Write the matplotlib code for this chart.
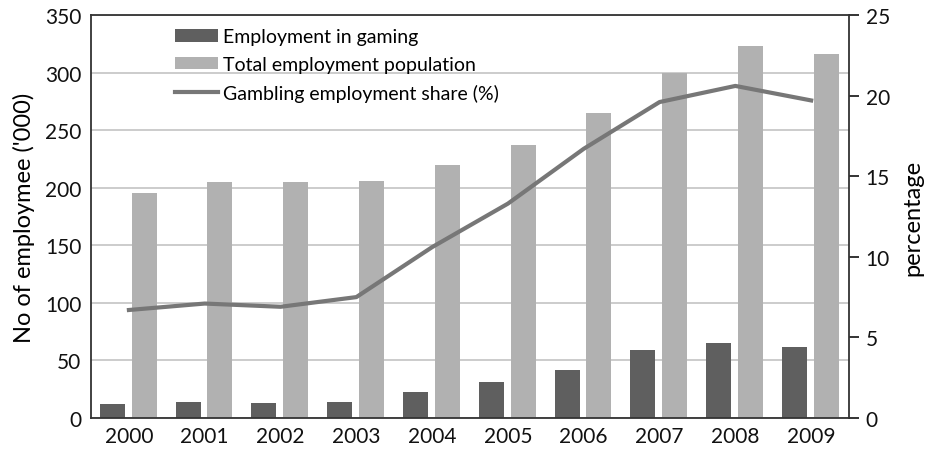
import numpy as np
import matplotlib
matplotlib.use('Agg')
import matplotlib.pyplot as plt

plt.rcParams['font.family'] = ['Lato', 'DejaVu Sans']

years = ['2000', '2001', '2002', '2003', '2004', '2005', '2006', '2007', '2008', '2009']
gaming = [12, 14, 13, 14, 23, 31, 42, 59, 65, 62]
total = [195, 205, 205, 206, 220, 237, 265, 300, 323, 316]
share = [6.7, 7.1, 6.9, 7.5, 10.6, 13.3, 16.7, 19.6, 20.6, 19.7]

fig = plt.figure(figsize=(9.25, 4.52), dpi=100)
ax = fig.add_axes([0.0984, 0.073, 0.8195, 0.8916])
x = np.arange(len(years))

b1 = ax.bar(x - 0.22, gaming, width=0.33, color='#5f5f5f', label='Employment in gaming', zorder=2)
b2 = ax.bar(x + 0.2, total, width=0.33, color='#b1b1b1', label='Total employment population', zorder=2)
ax.set_ylim(0, 350)
ax.set_xlim(-0.5, 9.5)
ax.set_yticks(range(0, 351, 50))
ax.set_xticks(x)
ax.set_xticklabels(years)
ax.yaxis.grid(True, color='#c4c4c4', linewidth=1.2, zorder=0)
ax.set_axisbelow(True)
ax.tick_params(axis='both', length=0, labelsize=15, colors='#111111')
ax.tick_params(axis='y', pad=7)
ax.tick_params(axis='x', pad=6)
ax.set_ylabel("No of employmee ('000)", fontsize=17, labelpad=7)
for s in ['top', 'bottom', 'left']:
    ax.spines[s].set_color('#333333')
    ax.spines[s].set_linewidth(1.3)
ax.spines['right'].set_visible(False)

ax2 = ax.twinx()
l1, = ax2.plot(x, share, color='#777777', linewidth=3, label='Gambling employment share (%)')
ax2.set_ylim(0, 25)
ax2.set_yticks(range(0, 26, 5))
ax2.tick_params(axis='y', length=7, width=1.2, labelsize=15, colors='#111111', pad=5)
ax2.set_ylabel('percentage', fontsize=17, rotation=90, labelpad=9)
for s in ['top', 'bottom', 'left']:
    ax2.spines[s].set_visible(False)
ax2.spines['right'].set_color('#333333')
ax2.spines['right'].set_linewidth(1.3)

ax.legend([b1, b2, l1], [b1.get_label(), b2.get_label(), l1.get_label()],
          loc='upper left', bbox_to_anchor=(0.088, 1.01), frameon=False, fontsize=14,
          handlelength=2.2, handleheight=0.6, handletextpad=0.25, labelspacing=0.55)

fig.savefig('out.png', dpi=100)
